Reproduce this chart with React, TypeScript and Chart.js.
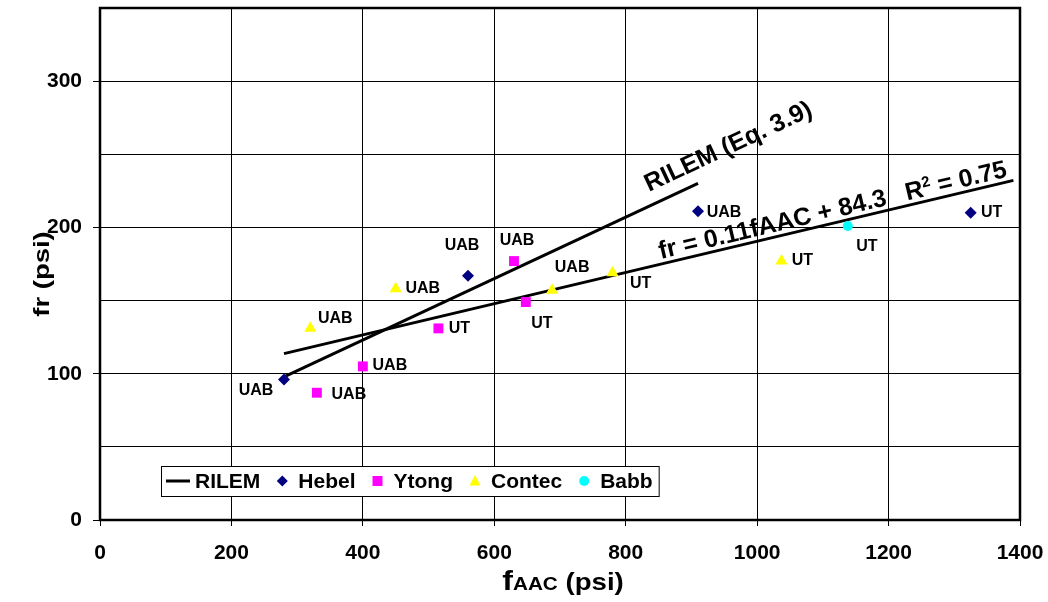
import { useEffect, useRef } from "react";
import { Chart, registerables } from "chart.js";

Chart.register(...registerables);

const FONT = '"Liberation Sans", Arial, Helvetica, sans-serif';

// Modulus of rupture (fr) against compressive strength (fAAC), both in psi
const hebelX = [280, 560, 910, 1325];
const hebelY = [96, 167, 211, 210];
const hebelTags = ["UAB", "UAB", "UAB", "UT"];

const ytongX = [330, 400, 515, 630, 648];
const ytongY = [87, 105, 131, 177, 149];
const ytongTags = ["UAB", "UAB", "UT", "UAB", "UT"];

const contecX = [320, 450, 688, 780, 1037];
const contecY = [131, 158, 157, 169, 177];
const contecTags = ["UAB", "UAB", "UAB", "UT", "UT"];

const babbX = [1138];
const babbY = [201];
const babbTags = ["UT"];

// RILEM (Eq. 3.9) segment
const rilemX = [280, 910];
const rilemY = [97.8, 230.1];

// x extent of the least-squares trendline
const trendSpan = [280, 1390];

const xTickValues = [0, 200, 400, 600, 800, 1000, 1200, 1400];
const yTickLabels = [0, 100, 200, 300];

const rilemLabel = "RILEM (Eq. 3.9)";
const fitLabel = "fr = 0.11fAAC + 84.3";
const r2Lead = "R";
const r2Sup = "2";
const r2Tail = " = 0.75";

// tag placement around each marker (pixels)
const hebelTagOffsets = [[-28, 11], [-6, -30], [26, 1], [21, 0]];
const ytongTagOffsets = [[32, 2], [27, -1], [21, 0], [3, -20], [16, 22]];
const contecTagOffsets = [[25, -10], [27, 0], [20, -23], [28, 11], [21, 0]];
const babbTagOffsets = [[19, 21]];

const toPoints = (xs: number[], ys: number[]) => xs.map((v, i) => ({ x: v, y: ys[i] }));

function leastSquares(xs: number[], ys: number[]) {
  const n = xs.length;
  const mx = xs.reduce((s, v) => s + v, 0) / n;
  const my = ys.reduce((s, v) => s + v, 0) / n;
  let sxy = 0;
  let sxx = 0;
  xs.forEach((v, i) => {
    sxy += (v - mx) * (ys[i] - my);
    sxx += (v - mx) * (v - mx);
  });
  const slope = sxy / sxx;
  return { slope, intercept: my - slope * mx };
}

const seriesTags = [
  { xs: hebelX, ys: hebelY, tags: hebelTags, offsets: hebelTagOffsets },
  { xs: ytongX, ys: ytongY, tags: ytongTags, offsets: ytongTagOffsets },
  { xs: contecX, ys: contecY, tags: contecTags, offsets: contecTagOffsets },
  { xs: babbX, ys: babbY, tags: babbTags, offsets: babbTagOffsets },
];

function drawMarker(ctx: CanvasRenderingContext2D, kind: string, cx: number, cy: number, color: string) {
  ctx.save();
  ctx.fillStyle = color;
  ctx.beginPath();
  if (kind === "diamond") {
    const r = 5.5;
    ctx.moveTo(cx, cy - r);
    ctx.lineTo(cx + r, cy);
    ctx.lineTo(cx, cy + r);
    ctx.lineTo(cx - r, cy);
    ctx.closePath();
  } else if (kind === "square") {
    ctx.rect(cx - 5, cy - 5, 10, 10);
  } else if (kind === "triangle") {
    ctx.moveTo(cx, cy - 6);
    ctx.lineTo(cx + 5.5, cy + 4.5);
    ctx.lineTo(cx - 5.5, cy + 4.5);
    ctx.closePath();
  } else {
    ctx.arc(cx, cy, 5, 0, Math.PI * 2);
  }
  ctx.fill();
  ctx.restore();
}

const legendItems = [
  { label: "RILEM", kind: "line", color: "#000000" },
  { label: "Hebel", kind: "diamond", color: "#000080" },
  { label: "Ytong", kind: "square", color: "#FF00FF" },
  { label: "Contec", kind: "triangle", color: "#FFFF00" },
  { label: "Babb", kind: "circle", color: "#00FFFF" },
];

function rotatedText(
  ctx: CanvasRenderingContext2D,
  p0: { x: number; y: number },
  p1: { x: number; y: number },
  alongFrac: number,
  lift: number,
  draw: (c: CanvasRenderingContext2D) => void
) {
  const ang = Math.atan2(p1.y - p0.y, p1.x - p0.x);
  const ax = p0.x + (p1.x - p0.x) * alongFrac;
  const ay = p0.y + (p1.y - p0.y) * alongFrac;
  ctx.save();
  ctx.translate(ax, ay);
  ctx.rotate(ang);
  ctx.translate(0, -lift);
  draw(ctx);
  ctx.restore();
}

export default function App() {
  const canvasRef = useRef<HTMLCanvasElement | null>(null);

  useEffect(() => {
    const canvas = canvasRef.current;
    if (!canvas) return;

    const allX = [...hebelX, ...ytongX, ...contecX, ...babbX];
    const allY = [...hebelY, ...ytongY, ...contecY, ...babbY];
    const fit = leastSquares(allX, allY);
    const trendPoints = trendSpan.map((v) => ({ x: v, y: fit.intercept + fit.slope * v }));

    const overlay = {
      id: "overlay",
      afterDatasetsDraw(chart: any) {
        const { ctx, scales } = chart;
        const xs = scales.x;
        const ys = scales.y;
        ctx.save();
        ctx.fillStyle = "#000";

        // source tags beside each marker
        ctx.font = `bold 16px ${FONT}`;
        ctx.textAlign = "center";
        ctx.textBaseline = "middle";
        seriesTags.forEach((s) => {
          s.xs.forEach((v, i) => {
            const px = xs.getPixelForValue(v);
            const py = ys.getPixelForValue(s.ys[i]);
            const [dx, dy] = s.offsets[i];
            ctx.fillText(s.tags[i], px + dx, py + dy);
          });
        });

        // label along the RILEM segment
        const r0 = { x: xs.getPixelForValue(rilemX[0]), y: ys.getPixelForValue(rilemY[0]) };
        const r1 = { x: xs.getPixelForValue(rilemX[1]), y: ys.getPixelForValue(rilemY[1]) };
        rotatedText(ctx, r0, r1, 0.895, 13, (c) => {
          c.font = `bold 25px ${FONT}`;
          c.textAlign = "left";
          c.textBaseline = "alphabetic";
          c.fillText(rilemLabel, 0, 0);
        });

        // fitted equation along the trendline
        const t0 = { x: xs.getPixelForValue(trendPoints[0].x), y: ys.getPixelForValue(trendPoints[0].y) };
        const t1 = { x: xs.getPixelForValue(trendPoints[1].x), y: ys.getPixelForValue(trendPoints[1].y) };
        rotatedText(ctx, t0, t1, 0.518, 5, (c) => {
          c.textAlign = "left";
          c.textBaseline = "alphabetic";
          c.font = `bold 25px ${FONT}`;
          c.fillText(fitLabel, 0, 0);
          let w = c.measureText(fitLabel).width + 20;
          c.fillText(r2Lead, w, 0);
          w += c.measureText(r2Lead).width;
          c.font = `bold 15px ${FONT}`;
          c.fillText(r2Sup, w, -9);
          w += c.measureText(r2Sup).width;
          c.font = `bold 25px ${FONT}`;
          c.fillText(r2Tail, w, 0);
        });
        ctx.restore();
      },
      afterDraw(chart: any) {
        const { ctx, chartArea: a } = chart;
        ctx.save();

        // plot frame
        ctx.strokeStyle = "#000";
        ctx.lineWidth = 2.5;
        ctx.strokeRect(a.left, a.top, a.right - a.left, a.bottom - a.top);

        // legend box inside the plot
        ctx.font = `bold 21px ${FONT}`;
        const boxLeft = a.left + 61;
        const boxTop = a.bottom - 54;
        const boxH = 30;
        const cy = boxTop + boxH / 2;
        let cursor = boxLeft + 5;
        const placed: { item: any; sx: number; tx: number }[] = [];
        legendItems.forEach((item, i) => {
          if (i === 0) {
            placed.push({ item, sx: cursor, tx: cursor + 29 });
            cursor = cursor + 29 + ctx.measureText(item.label).width;
          } else {
            const sx = cursor + 22;
            placed.push({ item, sx, tx: sx + 16 });
            cursor = sx + 16 + ctx.measureText(item.label).width;
          }
        });
        const boxRight = cursor + 6;
        ctx.fillStyle = "#fff";
        ctx.fillRect(boxLeft, boxTop, boxRight - boxLeft, boxH);
        ctx.lineWidth = 1;
        ctx.strokeStyle = "#000";
        ctx.strokeRect(boxLeft + 0.5, boxTop + 0.5, boxRight - boxLeft, boxH);
        placed.forEach(({ item, sx, tx }) => {
          if (item.kind === "line") {
            ctx.beginPath();
            ctx.moveTo(sx, cy);
            ctx.lineTo(sx + 24, cy);
            ctx.lineWidth = 3;
            ctx.strokeStyle = item.color;
            ctx.stroke();
          } else {
            drawMarker(ctx, item.kind, sx, cy, item.color);
          }
          ctx.fillStyle = "#000";
          ctx.textAlign = "left";
          ctx.textBaseline = "middle";
          ctx.fillText(item.label, tx, cy + 1);
        });

        // y axis title
        ctx.save();
        ctx.translate(43, 274);
        ctx.rotate(-Math.PI / 2);
        ctx.scale(1.25, 1);
        ctx.font = `bold 22px ${FONT}`;
        ctx.fillStyle = "#000";
        ctx.textAlign = "center";
        ctx.textBaseline = "middle";
        ctx.fillText("fr (psi)", 0, 0);
        ctx.restore();

        // x axis title: f with a smaller AAC
        ctx.save();
        const big = `bold 28px ${FONT}`;
        const small = `bold 18px ${FONT}`;
        const mid = `bold 24px ${FONT}`;
        ctx.font = big;
        const wf = ctx.measureText("f").width;
        ctx.font = small;
        const wa = ctx.measureText("AAC").width;
        ctx.font = mid;
        const wp = ctx.measureText(" (psi)").width;
        const total = wf + wa + wp;
        ctx.translate(563, 590);
        ctx.scale(1.15, 1);
        ctx.fillStyle = "#000";
        ctx.textAlign = "left";
        ctx.textBaseline = "alphabetic";
        let tx = -total / 2;
        ctx.font = big;
        ctx.fillText("f", tx, 0);
        tx += wf;
        ctx.font = small;
        ctx.fillText("AAC", tx, 0);
        tx += wa;
        ctx.font = mid;
        ctx.fillText(" (psi)", tx, 0);
        ctx.restore();

        ctx.restore();
      },
    };

    const chart = new Chart(canvas, {
      type: "scatter",
      data: {
        datasets: [
          {
            label: "Hebel",
            data: toPoints(hebelX, hebelY),
            pointStyle: "rectRot",
            pointRadius: 6,
            backgroundColor: "#000080",
            borderColor: "#000080",
            borderWidth: 0,
            order: 1,
          },
          {
            label: "Ytong",
            data: toPoints(ytongX, ytongY),
            pointStyle: "rect",
            pointRadius: 7,
            backgroundColor: "#FF00FF",
            borderColor: "#FF00FF",
            borderWidth: 0,
            order: 1,
          },
          {
            label: "Contec",
            data: toPoints(contecX, contecY),
            pointStyle: "triangle",
            pointRadius: 7,
            backgroundColor: "#FFFF00",
            borderColor: "#FFFF00",
            borderWidth: 0,
            order: 1,
          },
          {
            label: "Babb",
            data: toPoints(babbX, babbY),
            pointStyle: "circle",
            pointRadius: 5,
            backgroundColor: "#00FFFF",
            borderColor: "#00FFFF",
            borderWidth: 0,
            order: 1,
          },
          {
            label: "RILEM",
            data: toPoints(rilemX, rilemY),
            showLine: true,
            pointRadius: 0,
            borderColor: "#000",
            borderWidth: 3,
            order: 2,
          },
          {
            label: "Trend",
            data: trendPoints,
            showLine: true,
            pointRadius: 0,
            borderColor: "#000",
            borderWidth: 3,
            order: 2,
          },
        ],
      },
      options: {
        responsive: false,
        animation: false,
        events: [],
        layout: { padding: { top: 8, right: 28, left: 0, bottom: 0 } },
        plugins: {
          legend: { display: false },
          tooltip: { enabled: false },
          title: { display: false },
        },
        scales: {
          x: {
            type: "linear",
            min: 0,
            max: 1400,
            afterFit: (scale: any) => {
              scale.height = 82;
              scale.paddingLeft = 0;
              scale.paddingRight = 0;
            },
            afterBuildTicks: (scale: any) => {
              scale.ticks = xTickValues.map((v) => ({ value: v }));
            },
            border: { display: false },
            grid: {
              color: "#000",
              lineWidth: 1,
              tickLength: 6,
              tickColor: "#000",
            },
            ticks: {
              color: "#000",
              font: { family: FONT, size: 21, weight: "bold" },
              padding: 15,
              maxRotation: 0,
              autoSkip: false,
              callback: (v: any) => String(v),
            },
          },
          y: {
            type: "linear",
            min: 0,
            max: 350,
            afterFit: (scale: any) => {
              scale.width = 100;
              scale.paddingTop = 0;
              scale.paddingBottom = 0;
            },
            border: { display: false },
            grid: {
              color: "#000",
              lineWidth: 1,
              tickLength: 7,
              tickColor: (c: any) =>
                c.tick && yTickLabels.includes(c.tick.value) ? "#000" : "rgba(0,0,0,0)",
            },
            ticks: {
              stepSize: 50,
              color: "#000",
              font: { family: FONT, size: 21, weight: "bold" },
              padding: 11,
              autoSkip: false,
              callback: (v: any) => (yTickLabels.includes(Number(v)) ? String(v) : ""),
            },
          },
        },
      },
      plugins: [overlay],
    } as any);

    return () => chart.destroy();
  }, []);

  return (
    <div style={{ position: "absolute", left: 0, top: 0, width: 1048, height: 602, background: "#fff" }}>
      <canvas ref={canvasRef} width={1048} height={602} style={{ display: "block" }} />
    </div>
  );
}
